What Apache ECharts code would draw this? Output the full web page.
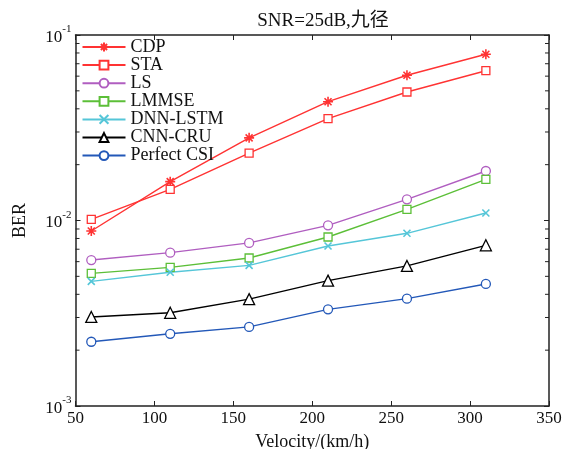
<!DOCTYPE html>
<html><head><meta charset="utf-8">
<script src="https://cdn.jsdelivr.net/npm/echarts@6/dist/echarts.min.js"></script>
<style>html,body{margin:0;padding:0;background:#fff}#c{width:574px;height:449px}</style>
</head><body><div id="c"></div>
<script>
var velocities = [60, 110, 160, 210, 260, 310];
var cdp     = [0.00878, 0.0162, 0.0279, 0.0437, 0.0607, 0.0787];
var sta     = [0.01015, 0.01473, 0.0231, 0.0354, 0.0493, 0.0642];
var ls      = [0.00612, 0.00671, 0.00757, 0.00942, 0.0130, 0.01849];
var lmmse   = [0.00519, 0.00559, 0.00628, 0.00815, 0.01149, 0.01667];
var dnnLstm = [0.00470, 0.00526, 0.00573, 0.00729, 0.00853, 0.01097];
var cnnCru  = [0.00302, 0.00318, 0.00377, 0.00474, 0.00569, 0.00735];
var perfect = [0.00222, 0.00245, 0.00267, 0.00332, 0.00379, 0.00455];
var seriesNames = ['CDP', 'STA', 'LS', 'LMMSE', 'DNN-LSTM', 'CNN-CRU', 'Perfect CSI'];
var minorTickValues = [0.002,0.003,0.004,0.005,0.006,0.007,0.008,0.009,0.02,0.03,0.04,0.05,0.06,0.07,0.08,0.09];

var FONT = "'Liberation Serif','Times New Roman','Noto Sans CJK SC',serif";
var chart = echarts.init(document.getElementById('c'), null, {renderer: 'canvas'});

function pairs(arr) { return velocities.map(function (v, i) { return [v, arr[i]]; }); }

var ASTER = 'path://M0,-10L0,10M-10,0L10,0M-7,-7L7,7M-7,7L7,-7';
var XMARK = 'path://M-10,-10L10,10M-10,10L10,-10';

function mkSeries(name, arr, color, symbol, size, strokeOnly) {
  return {
    name: name, type: 'line', data: pairs(arr),
    symbol: symbol, symbolSize: size, showSymbol: true,
    lineStyle: {color: color, width: 1.4},
    itemStyle: {color: strokeOnly ? color : '#fff', borderColor: color, borderWidth: strokeOnly ? 1.6 : 1.3},
    emphasis: {disabled: true},
    z: 3
  };
}

var series = [
  mkSeries('CDP', cdp, '#ff3333', ASTER, 10, true),
  mkSeries('STA', sta, '#ff3333', 'rect', 8, false),
  mkSeries('LS', ls, '#b05ec0', 'circle', 9, false),
  mkSeries('LMMSE', lmmse, '#5cbf38', 'rect', 8, false),
  mkSeries('DNN-LSTM', dnnLstm, '#55c6d8', XMARK, 7, true),
  mkSeries('CNN-CRU', cnnCru, '#000000', 'triangle', 11, false),
  mkSeries('Perfect CSI', perfect, '#2358b8', 'circle', 9, false),
  {
    type: 'custom', silent: true, z: 2,
    data: minorTickValues.map(function (v) { return [v]; }),
    encode: {y: 0},
    renderItem: function (params, api) {
      var v = api.value(0);
      var l = api.coord([50, v]);
      var r = api.coord([350, v]);
      var st = {stroke: '#222', lineWidth: 1};
      return {type: 'group', children: [
        {type: 'line', shape: {x1: l[0], y1: l[1], x2: l[0] + 4, y2: l[1]}, style: st},
        {type: 'line', shape: {x1: r[0], y1: r[1], x2: r[0] - 4, y2: r[1]}, style: st}
      ]};
    }
  }
];

function expLabel(v) {
  var e = Math.round(Math.log10(v));
  return '{b|10}{s|' + e + '}';
}

var axisLine = {show: true, lineStyle: {color: '#222', width: 1.5}};
var option = {
  animation: false,
  backgroundColor: '#fff',
  title: {
    text: 'SNR=25dB,九径', left: 318, top: 7, textAlign: 'center',
    textStyle: {fontFamily: FONT, fontSize: 19, fontWeight: 'normal', color: '#111'}
  },
  legend: {
    data: seriesNames, orient: 'vertical', left: 81.5, top: 38, padding: 0,
    itemWidth: 43, itemHeight: 11, itemGap: 0.1,
    textStyle: {fontFamily: FONT, fontSize: 18, color: '#111', lineHeight: 18},
    selectedMode: false
  },
  grid: {left: 75.5, right: 25, top: 35, bottom: 43, containLabel: false, outerBoundsMode: 'none'},
  xAxis: [{
    type: 'value', min: 50, max: 350, interval: 50,
    name: 'Velocity/(km/h)', nameLocation: 'middle', nameGap: 27,
    nameTextStyle: {fontFamily: FONT, fontSize: 18, color: '#111'},
    axisLine: axisLine,
    axisTick: {show: true, inside: true, length: 5, lineStyle: {color: '#222'}},
    axisLabel: {fontFamily: FONT, fontSize: 17, color: '#111', margin: 4},
    splitLine: {show: false}
  }, {
    type: 'value', position: 'top', min: 50, max: 350, interval: 50,
    axisLine: axisLine,
    axisTick: {show: true, inside: true, length: 5, lineStyle: {color: '#222'}},
    axisLabel: {show: false}, splitLine: {show: false}
  }],
  yAxis: [{
    type: 'log', logBase: 10, min: 0.001, max: 0.1,
    name: 'BER', nameLocation: 'middle', nameGap: 46,
    nameTextStyle: {fontFamily: FONT, fontSize: 18, color: '#111'},
    axisLine: axisLine,
    axisTick: {show: true, inside: true, length: 5, lineStyle: {color: '#222'}},
    axisLabel: {
      formatter: expLabel, margin: 4,
      rich: {
        b: {fontFamily: FONT, fontSize: 17, color: '#111', verticalAlign: 'bottom', lineHeight: 22},
        s: {fontFamily: FONT, fontSize: 11, color: '#111', verticalAlign: 'top', lineHeight: 22}
      }
    },
    splitLine: {show: false}
  }, {
    type: 'log', logBase: 10, min: 0.001, max: 0.1, position: 'right',
    axisLine: axisLine,
    axisTick: {show: true, inside: true, length: 5, lineStyle: {color: '#222'}},
    axisLabel: {show: false}, splitLine: {show: false}
  }],
  series: series
};
chart.setOption(option);
</script>
</body></html>
